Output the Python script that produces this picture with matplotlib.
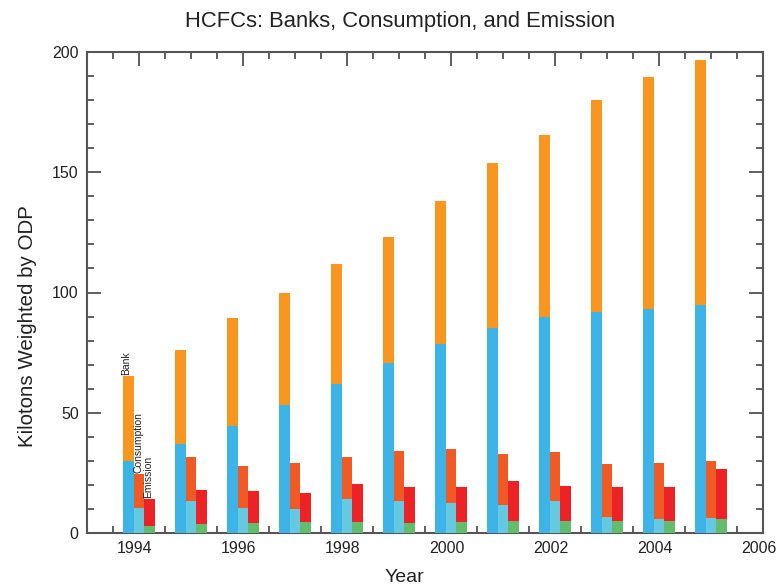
import numpy as np
import matplotlib
matplotlib.use("Agg")
import matplotlib.pyplot as plt
from matplotlib.ticker import MultipleLocator
from matplotlib.transforms import ScaledTranslation

plt.rcParams['font.family'] = ['Liberation Sans', 'DejaVu Sans']

years = np.arange(1994, 2006)
# bank: lower (blue) part and total
bank_low = [30, 37, 44.6, 53.3, 62, 70.8, 78.7, 85.4, 90, 91.7, 93.3, 94.6]
bank_tot = [65.4, 76, 89.6, 99.6, 112, 123, 138, 154, 165.4, 180, 189.6, 196.7]
# consumption: lower (light cyan) part and total
cons_low = [10.4, 13.3, 10.4, 10, 14, 13.3, 12.5, 11.7, 13.3, 6.7, 5.8, 6.2]
cons_tot = [24.6, 31.7, 27.8, 29, 31.7, 34, 35, 33, 33.8, 28.7, 29.2, 30]
# emission: lower (green) part and total
emis_low = [2.9, 3.7, 4, 4.5, 4.5, 4.2, 4.6, 5, 5, 5, 5, 5.8]
emis_tot = [14.2, 17.9, 17.5, 16.7, 20.4, 19, 19, 21.7, 19.6, 19.2, 19.2, 26.7]

c_bank_low, c_bank_top = '#3db4e7', '#f8961f'
c_cons_low, c_cons_top = '#66c9e2', '#f05a24'
c_emis_low, c_emis_top = '#62bd6e', '#ec2227'

fig = plt.figure(figsize=(7.78, 5.84), dpi=100)
ax = fig.add_axes([87/778, 1-533/584, (763-87)/778, (533-52)/584])

w = 0.2
bl = np.array(bank_low); bt = np.array(bank_tot)
cl = np.array(cons_low); ct = np.array(cons_tot)
el = np.array(emis_low); et = np.array(emis_tot)
ax.bar(years - 0.2, bl, w, color=c_bank_low, zorder=3)
ax.bar(years - 0.2, bt - bl, w, bottom=bl, color=c_bank_top, zorder=3)
ax.bar(years, cl, w, color=c_cons_low, zorder=3)
ax.bar(years, ct - cl, w, bottom=cl, color=c_cons_top, zorder=3)
ax.bar(years + 0.2, el, w, color=c_emis_low, zorder=3)
ax.bar(years + 0.2, et - el, w, bottom=el, color=c_emis_top, zorder=3)

# small rotated labels on the first group
lab_kw = dict(rotation=90, ha='center', va='bottom', fontsize=7.5, color='#222222', zorder=4)
ax.text(1994 - 0.24, bank_tot[0] + 0.5, 'Bank', **lab_kw)
ax.text(1994 + 0.0, cons_tot[0] + 0.5, 'Consumption', **lab_kw)
ax.text(1994 + 0.18, emis_tot[0] + 0.5, 'Emission', **lab_kw)

ax.set_xlim(1993, 2006)
ax.set_ylim(0, 200)
ax.xaxis.set_major_locator(MultipleLocator(2))
ax.xaxis.set_minor_locator(MultipleLocator(0.5))
ax.yaxis.set_major_locator(MultipleLocator(50))
ax.yaxis.set_minor_locator(MultipleLocator(10))
ax.tick_params(which='both', direction='in', top=True, right=True,
               colors='#444444', labelcolor='#222222', width=1.2)
ax.tick_params(which='major', length=10, labelsize=11.5, pad=6)
ax.tick_params(which='minor', length=5)
for s in ax.spines.values():
    s.set_color('#555555')
    s.set_linewidth(1.5)

# year labels sit a little left of their ticks in the original
shift = ScaledTranslation(-4/100, 0, fig.dpi_scale_trans)
for lbl in ax.get_xticklabels():
    lbl.set_transform(lbl.get_transform() + shift)

fig.text(400/778, 1-21/584, 'HCFCs: Banks, Consumption, and Emission',
         ha='center', va='center', fontsize=15.8, color='#222222')
fig.text(404/778, 1-577/584, 'Year', ha='center', va='center',
         fontsize=14, color='#222222')
fig.text(28/778, 1-326/584, 'Kilotons Weighted by ODP', ha='center', va='center',
         rotation=90, fontsize=14.8, color='#222222')

fig.savefig('out.png', dpi=100)
